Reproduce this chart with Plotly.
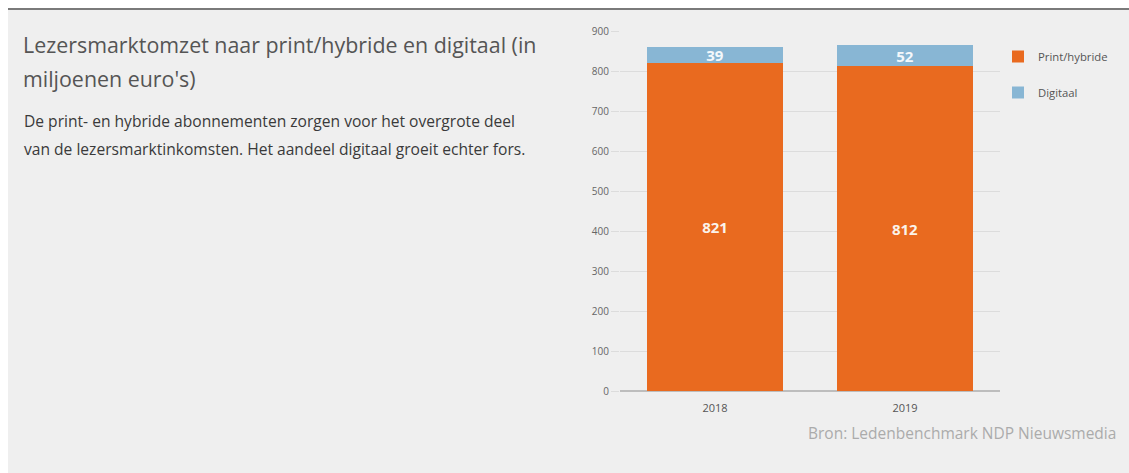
import plotly.graph_objects as go

# Reader-market revenue (millions of euros) by product type
years = ["2018", "2019"]
print_hybride = [821, 812]
digitaal = [39, 52]
y_ticks = [0, 100, 200, 300, 400, 500, 600, 700, 800, 900]

W, H = 1129, 473
PLOT_L, PLOT_R = 620, 1000
PLOT_T, PLOT_B = 31, 391


def px(xpix):
    return (xpix - PLOT_L) / (PLOT_R - PLOT_L)


def py(ypix):
    return (PLOT_B - ypix) / (PLOT_B - PLOT_T)


FONT = "Open Sans"
ORANGE = "#E96A1F"
BLUE = "#88B6D4"
GRID = "#DCDCDC"

fig = go.Figure()
fig.add_trace(go.Bar(
    x=years, y=print_hybride, name="Print/hybride",
    marker=dict(color=ORANGE, line=dict(width=0)),
    texttemplate="%{y}", textposition="inside", insidetextanchor="middle",
    textangle=0,
    textfont=dict(family=FONT, size=15, color="#FBF3EA", weight="bold"),
    legendgroup="a",
))
fig.add_trace(go.Bar(
    x=years, y=digitaal, name="Digitaal",
    marker=dict(color=BLUE, line=dict(width=0)),
    texttemplate="%{y}", textposition="inside", insidetextanchor="middle",
    textangle=0,
    textfont=dict(family=FONT, size=15, color="#F4F8FB", weight="bold"),
    legendgroup="b",
))

annotations = [
    dict(text="Lezersmarktomzet naar print/hybride en digitaal (in",
         x=px(21), y=py(45), font=dict(family=FONT, size=21.4, color="#555555")),
    dict(text="miljoenen euro's)",
         x=px(21), y=py(78), font=dict(family=FONT, size=21.4, color="#555555")),
    dict(text="De print- en hybride abonnementen zorgen voor het overgrote deel",
         x=px(22), y=py(121), font=dict(family=FONT, size=15.6, color="#3A3A3A")),
    dict(text="van de lezersmarktinkomsten. Het aandeel digitaal groeit echter fors.",
         x=px(22), y=py(149), font=dict(family=FONT, size=15.6, color="#3A3A3A")),
]
for a in annotations:
    a.update(xref="paper", yref="paper", xanchor="left", yanchor="middle",
             showarrow=False)
annotations.append(dict(
    text="Bron: Ledenbenchmark NDP Nieuwsmedia", xref="paper", yref="paper",
    x=px(1118), y=py(433), xanchor="right", yanchor="middle", showarrow=False,
    font=dict(family=FONT, size=15.5, color="#ABABAB"),
))

shapes = [
    # grey panel with dark rule on top
    dict(type="rect", xref="paper", yref="paper", layer="below",
         x0=px(8), x1=px(W + 5), y0=py(H + 5), y1=py(9),
         fillcolor="#EFEFEF", line=dict(width=0)),
    dict(type="line", xref="paper", yref="paper", layer="below",
         x0=px(8), x1=px(W + 5), y0=py(9), y1=py(9),
         line=dict(color="#7A7A7A", width=2)),
]

fig.update_layout(
    width=W, height=H,
    margin=dict(l=PLOT_L, r=W - PLOT_R, t=PLOT_T, b=H - PLOT_B, pad=0),
    paper_bgcolor="white", plot_bgcolor="rgba(0,0,0,0)",
    barmode="stack", bargap=0.285,
    uniformtext=dict(minsize=15, mode="show"),
    font=dict(family=FONT, color="#555555"),
    showlegend=True,
    legend=dict(x=px(998), y=py(42), xanchor="left", yanchor="top",
                traceorder="grouped", tracegroupgap=17,
                font=dict(family=FONT, size=11.3, color="#555555"),
                bgcolor="rgba(0,0,0,0)"),
    annotations=annotations,
    shapes=shapes,
    xaxis=dict(type="category", showgrid=False, showline=False, ticks="",
               ticklabelstandoff=9,
               tickfont=dict(family=FONT, size=11, color="#555555")),
    yaxis=dict(range=[0, 900], tickvals=y_ticks, showgrid=True,
               gridcolor=GRID, gridwidth=1, zeroline=True,
               zerolinecolor="#BDBDBD", zerolinewidth=1.5,
               ticks="outside", ticklen=8, tickcolor=GRID,
               tickfont=dict(family=FONT, size=10, color="#666666")),
)

fig.write_html("out.html")
